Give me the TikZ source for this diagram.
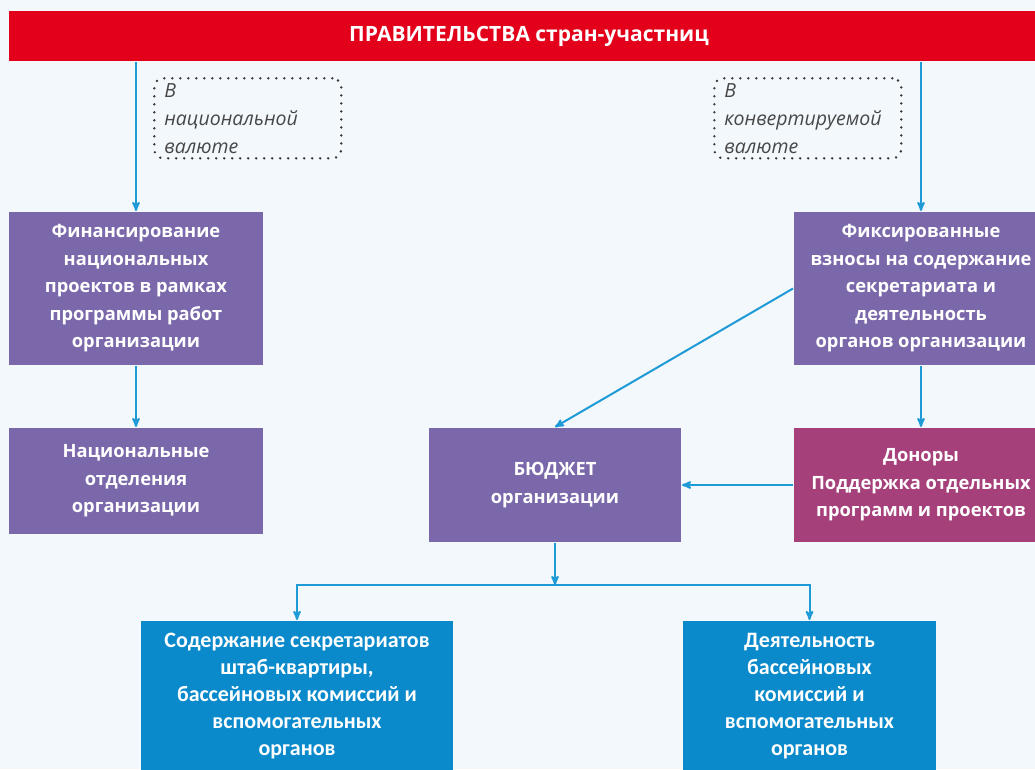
\documentclass[tikz,border=0pt]{standalone}
\usepackage{fontspec}
\setmainfont{Open Sans}
\newfontfamily\narrowfont{Carlito}
\usetikzlibrary{arrows,positioning}

\definecolor{bgcol}{HTML}{F3F8FC}
\definecolor{govred}{HTML}{E2001A}
\definecolor{lilac}{HTML}{7A68AB}
\definecolor{plum}{HTML}{A6407B}
\definecolor{sea}{HTML}{0A8ACB}
\definecolor{wire}{HTML}{1E9BD7}

\begin{document}
\begin{tikzpicture}[x=1pt,y=-1pt,>=stealth',line width=2pt,
  every node/.style={inner sep=0pt,anchor=north west},
  bar/.style={fill=govred,text=white,minimum width=1040pt,minimum height=50pt,font=\bfseries\fontsize{21}{24}\selectfont},
  box/.style={fill=lilac,text=white,align=center,font=\bfseries\fontsize{18.3}{27.5}\selectfont},
  donor/.style={box,fill=plum},
  outbox/.style={box,fill=sea,minimum height=150pt,font=\narrowfont\bfseries\fontsize{22}{27}\selectfont},
  note/.style={draw=black!80,line width=2.6pt,dash pattern=on 0pt off 8pt,line cap=round,rounded corners=9pt,
    text=black!72,align=left,minimum width=187pt,minimum height=80pt,inner xsep=10pt,text width=167pt,
    font=\itshape\fontsize{19.5}{28}\selectfont}]

\useasboundingbox[fill=bgcol] (0,0) rectangle (1035,769);
\clip (0,0) rectangle (1035,769);

\node[bar] (gov) at (8,10) {ПРАВИТЕЛЬСТВА стран-участниц};

\node[note] (natcur) at (153,77) {В\\национальной\\валюте};
\node[note] (convcur) at (713,77) {В\\конвертируемой\\валюте};

\node[box,minimum width=254pt,minimum height=153pt] (fin) at (8,211)
  {Финансирование\\национальных\\проектов в рамках\\программы работ\\организации};
\node[box,minimum width=254pt,minimum height=106pt] (natdep) at (8,427)
  {Национальные\\отделения\\организации};
\node[box,minimum width=254pt,minimum height=153pt] (fixed) at (793,211)
  {Фиксированные\\взносы на содержание\\секретариата и\\деятельность\\органов организации};
\node[donor,minimum width=254pt,minimum height=114pt] (donors) at (793,427)
  {Доноры\\Поддержка отдельных\\программ и проектов};
\node[box,minimum width=252pt,minimum height=114pt] (budget) at (428,427)
  {БЮДЖЕТ\\организации};
\node[outbox,minimum width=312pt] (secr) at (140,620)
  {Содержание секретариатов\\штаб-квартиры,\\бассейновых комиссий и\\вспомогательных\\органов};
\node[outbox,minimum width=253pt] (basin) at (682,620)
  {Деятельность\\бассейновых\\комиссий и\\вспомогательных\\органов};

\coordinate (split) at (budget.south |- 0,585);

\path[->,color=wire] (fin.north |- gov.south) edge (fin.north)
  (fin) edge (natdep)
  (fixed.north |- gov.south) edge (fixed.north)
  (fixed) edge (donors)
  (fixed.west) edge (budget.north)
  (donors) edge (budget)
  (budget) edge (split);
\draw[->,wire] (split) -| (secr.north);
\draw[->,wire] (split) -| (basin.north);

\end{tikzpicture}
\end{document}
